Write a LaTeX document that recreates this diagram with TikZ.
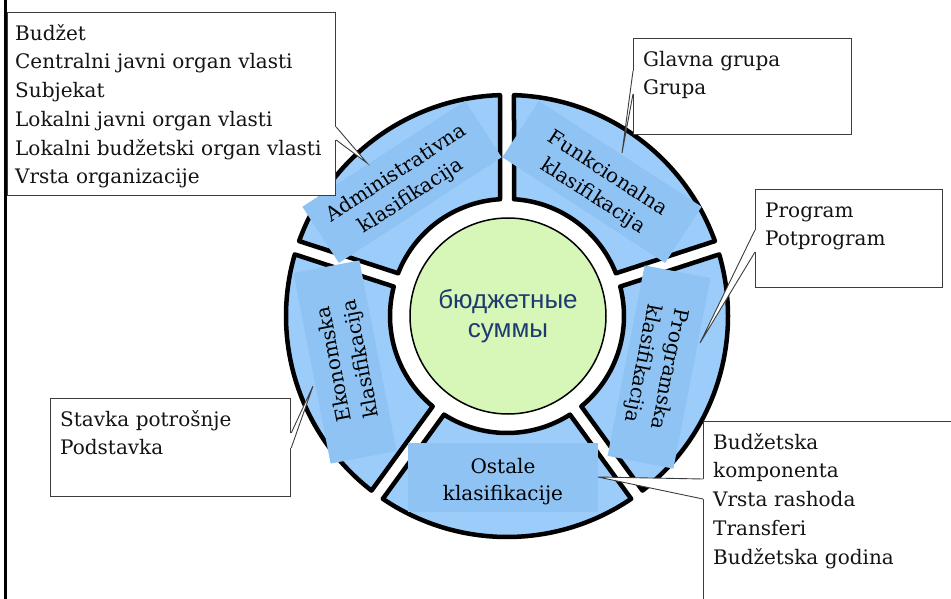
\documentclass[tikz,border=0pt]{standalone}
\usepackage{fontspec}
\setmainfont{DejaVu Serif}
\newfontfamily\rusans{Liberation Sans}
\usetikzlibrary{calc}
\definecolor{segblue}{RGB}{155,204,250}
\definecolor{labblue}{RGB}{143,195,243}
\definecolor{centgreen}{RGB}{214,247,183}
\definecolor{navytxt}{RGB}{31,58,110}
\definecolor{boxgray}{RGB}{60,60,60}
\definecolor{txtblack}{RGB}{20,20,20}
\tikzset{
  seg/.style={fill=segblue, draw=black, line width=4.5pt, line join=round},
  lab/.style={fill=labblue, minimum width=194pt, minimum height=67pt, inner sep=0pt,
    align=center, font=\fontsize{20}{27}\selectfont, text=black},
  callbox/.style={draw=boxgray, line width=1.2pt, fill=white, inner sep=0pt, anchor=north west},
  calltext/.style={anchor=north west, inner sep=0pt, text width=330pt, align=left,
    font=\fontsize{20}{28.7}\selectfont, text=txtblack},
  wedgeline/.style={draw=boxgray, line width=0.9pt},
  centre/.style={circle, fill=centgreen, draw=black, line width=1.5pt, minimum size=196pt,
    inner sep=0pt, align=center, font=\rusans\fontsize{26}{29}\selectfont, text=navytxt},
}
\begin{document}
\begin{tikzpicture}[x=1pt,y=1pt]
\useasboundingbox (0,-599) rectangle (951,0);
\clip (0,-599) rectangle (951,0);
\fill[white] (0,-599) rectangle (951,0);

% ring segments
\begin{scope}[shift={(507,-316)}]
\foreach \a in {18,90,162,234,306}{
  \draw[seg] ({\a+1.815}:221) arc[start angle={\a+1.815}, end angle={\a+72-1.815}, radius=221]
    -- ({\a+72-3.43}:117) arc[start angle={\a+72-3.43}, end angle={\a+3.43}, radius=117] -- cycle;
}
\end{scope}

% segment labels
\node[lab, rotate=33] (adminlab) at (402,-182) {\rule{0pt}{22.5pt}Administrativna\\klasifikacija};
\node[lab, rotate=-33] (funklab) at (602,-182) {\rule{0pt}{22.5pt}Funkcionalna\\klasifikacija};
\node[lab, rotate=-101] (proglab) at (659,-367) {\rule{0pt}{22.5pt}Programska\\klasifikacija};
\node[lab, rotate=101] (ekonlab) at (345,-362) {\rule{0pt}{22.5pt}Ekonomska\\klasifikacija};
\node[lab, minimum width=190pt, minimum height=69pt] (ostlab) at (503,-477.5) {\rule{0pt}{22.5pt}Ostale\\klasifikacije};

% centre
\node[centre] (centre) at (508,-316) {бюджетные\\суммы};

% left border bar
\draw[line width=3pt, black] (5.5,0) -- (5.5,-599);

% callout: administrative
\node[callbox, minimum width=328pt, minimum height=183pt] (adminbox) at (7,-12) {};
\coordinate (admintip) at (367,-163);
\fill[white] ($(adminbox.north east)+(-1.5,-115)$) -- ($(adminbox.north east)+(0,-115)$) -- (admintip)
  -- ($(adminbox.north east)+(0,-128)$) -- ($(adminbox.north east)+(-1.5,-128)$) -- cycle;
\draw[wedgeline] ($(adminbox.north east)+(0,-115)$) -- (admintip) -- ($(adminbox.north east)+(0,-128)$);
\node[calltext] (admintext) at ($(adminbox.north west)+(8,-8)$)
  {\strut Budžet\\Centralni javni organ vlasti\\Subjekat\\Lokalni javni organ vlasti\\Lokalni budžetski organ vlasti\\Vrsta organizacije};

% callout: functional
\node[callbox, minimum width=218pt, minimum height=96pt] (funkbox) at (633,-38) {};
\coordinate (funktip) at (622,-153);
\fill[white] ($(funkbox.north west)+(1.5,-33)$) -- ($(funkbox.north west)+(0,-33)$) -- (funktip)
  -- ($(funkbox.north west)+(0,-56)$) -- ($(funkbox.north west)+(1.5,-56)$) -- cycle;
\draw[wedgeline] ($(funkbox.north west)+(0,-33)$) -- (funktip) -- ($(funkbox.north west)+(0,-56)$);
\node[calltext] (funktext) at ($(funkbox.north west)+(10,-8)$) {\strut Glavna grupa\\Grupa};

% callout: programme
\node[callbox, minimum width=187pt, minimum height=98pt] (progbox) at (755,-189) {};
\coordinate (progtip) at (700,-343);
\fill[white] ($(progbox.north west)+(1.5,-41)$) -- ($(progbox.north west)+(0,-41)$) -- (progtip)
  -- ($(progbox.north west)+(0,-63)$) -- ($(progbox.north west)+(1.5,-63)$) -- cycle;
\draw[wedgeline] ($(progbox.north west)+(0,-41)$) -- (progtip) -- ($(progbox.north west)+(0,-63)$);
\node[calltext] (progtext) at ($(progbox.north west)+(10,-8)$) {\strut Program\\Potprogram};

% callout: economic
\node[callbox, minimum width=240pt, minimum height=98pt] (ekonbox) at (50,-398) {};
\coordinate (ekontip) at (313,-386);
\fill[white] ($(ekonbox.north east)+(-1.5,-35)$) -- ($(ekonbox.north east)+(0,-35)$) -- (ekontip)
  -- ($(ekonbox.north east)+(0,-50)$) -- ($(ekonbox.north east)+(-1.5,-50)$) -- cycle;
\draw[wedgeline] ($(ekonbox.north east)+(0,-35)$) -- (ekontip) -- ($(ekonbox.north east)+(0,-50)$);
\node[calltext] (ekontext) at ($(ekonbox.north west)+(10,-8)$) {\strut Stavka potrošnje\\Podstavka};

% callout: other
\node[callbox, minimum width=270pt, minimum height=200pt] (ostbox) at (703,-421) {};
\coordinate (osttip) at (598,-477);
\fill[white] ($(ostbox.north west)+(1.5,-58)$) -- ($(ostbox.north west)+(0,-58)$) -- (osttip)
  -- ($(ostbox.north west)+(0,-78)$) -- ($(ostbox.north west)+(1.5,-78)$) -- cycle;
\draw[wedgeline] ($(ostbox.north west)+(0,-58)$) -- (osttip) -- ($(ostbox.north west)+(0,-78)$);
\node[calltext] (osttext) at ($(ostbox.north west)+(10,-8)$)
  {\strut Budžetska\\komponenta\\Vrsta rashoda\\Transferi\\Budžetska godina};
\end{tikzpicture}
\end{document}
